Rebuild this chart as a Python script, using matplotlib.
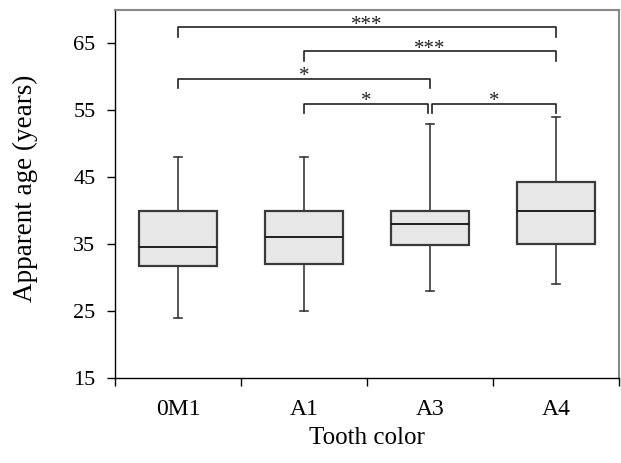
import matplotlib
matplotlib.use("Agg")
import matplotlib.pyplot as plt

plt.rcParams["font.family"] = ["Liberation Serif", "DejaVu Serif"]

# Box summaries
groups       = ["0M1", "A1", "A3", "A4"]
whisker_low  = [24, 25, 28, 29]
q1           = [31.8, 32.0, 34.8, 35.0]
median       = [34.5, 36.0, 38.0, 40.0]
q3           = [40.0, 40.0, 40.0, 44.3]
whisker_high = [48, 48, 53, 54]

# Significance brackets: (group a, group b, bracket height, label)
pairs = [
    (0, 3, 67.4, "***"),
    (1, 3, 63.8, "***"),
    (0, 2, 59.7, "*"),
    (1, 2, 56.0, "*"),
    (2, 3, 56.0, "*"),
]

stats = []
for g, lo, a, m, b, hi in zip(groups, whisker_low, q1, median, q3, whisker_high):
    stats.append({"label": g, "whislo": lo, "q1": a, "med": m, "q3": b,
                  "whishi": hi, "fliers": []})

fig = plt.figure(figsize=(6.21, 4.63), dpi=100)
ax = fig.add_axes([0.185, 0.1836, 0.8116, 0.795])

positions = list(range(1, len(groups) + 1))
ax.bxp(stats, positions=positions, widths=0.62, patch_artist=True,
       showfliers=False, capwidths=0.065,
       boxprops=dict(facecolor="#e6e7e6", edgecolor="#3a3a3a", linewidth=1.6),
       medianprops=dict(color="#111111", linewidth=1.3),
       whiskerprops=dict(color="#3a3a3a", linewidth=1.2),
       capprops=dict(color="#3a3a3a", linewidth=1.2))

# Brackets
drop = 1.4
for a, b, y, lab in pairs:
    x1, x2 = positions[a], positions[b]
    # brackets sharing an end point are nudged apart a little
    if b == 2 and a == 1:
        x2 -= 0.015
    if a == 2 and b == 3:
        x1 += 0.015
    ax.plot([x1, x1, x2, x2], [y - drop, y, y, y - drop],
            color="#222222", lw=1.2, clip_on=False)
    ax.text((x1 + x2) / 2, y - 0.35, lab, ha="center", va="baseline",
            fontsize=15, color="#222222")

ax.set_xlim(0.5, 4.5)
ax.set_ylim(15, 70)
ax.set_yticks(range(15, 66, 10))
ax.set_xticks(positions, groups)
ax.set_xticks([p - 0.5 for p in positions] + [positions[-1] + 0.5], minor=True)

ax.tick_params(axis="x", which="major", length=0, pad=15, labelsize=17)
ax.tick_params(axis="x", which="minor", length=6, width=1, direction="out")
ax.tick_params(axis="y", length=6, width=1, pad=8, labelsize=16)

for side in ["top", "right"]:
    ax.spines[side].set_color("#888888")
    ax.spines[side].set_linewidth(1.5)
for side in ["left", "bottom"]:
    ax.spines[side].set_color("black")
    ax.spines[side].set_linewidth(1.0)

ax.set_xlabel("Tooth color", fontsize=18, labelpad=5)
ax.set_ylabel("Apparent age (years)", fontsize=19.5)
ax.yaxis.set_label_coords(-0.153, 0.515)

fig.savefig("out.png", dpi=100)
